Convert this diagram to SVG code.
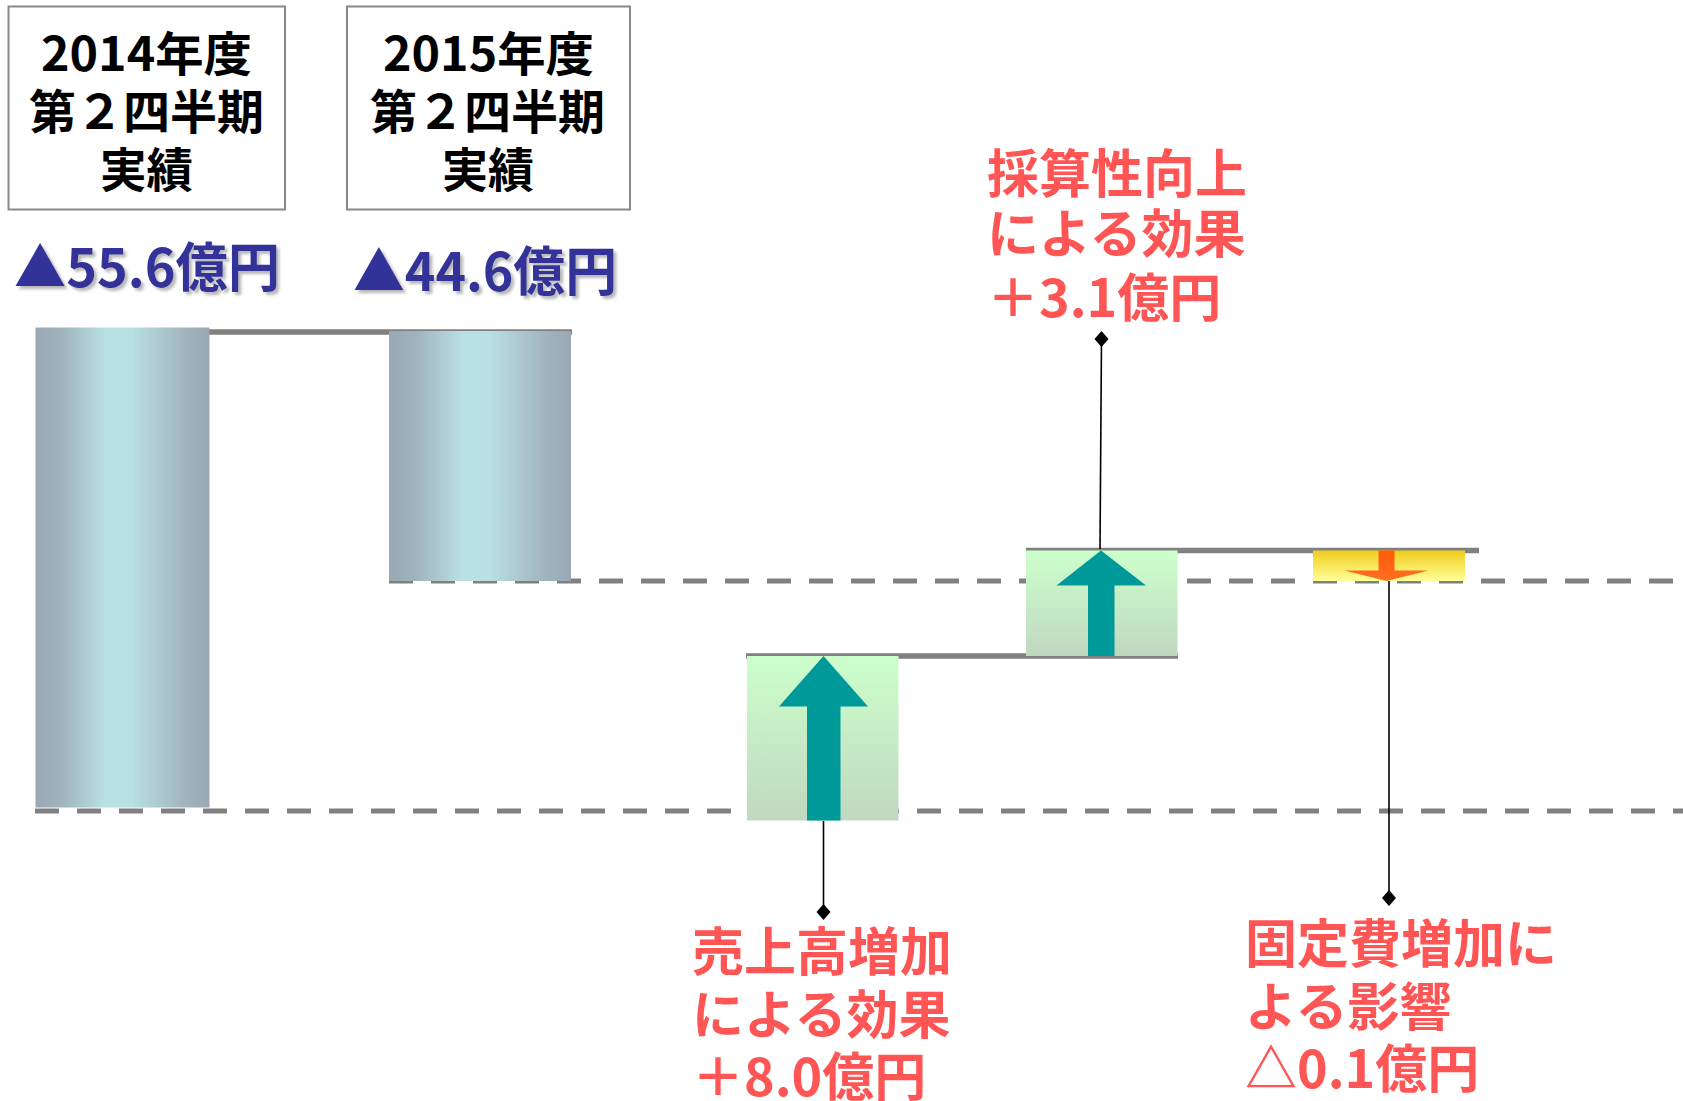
<svg xmlns="http://www.w3.org/2000/svg" width="1683" height="1101" viewBox="0 0 1683 1101">
<style>
.hdr{font-family:"Noto Sans CJK JP","Liberation Sans",sans-serif;font-weight:bold;font-size:47px;fill:#000}
.val{font-family:"Noto Sans CJK JP","Liberation Sans",sans-serif;font-weight:bold;font-size:53px;fill:#333399}
.red{font-family:"Noto Sans CJK JP","Liberation Sans",sans-serif;font-weight:bold;font-size:52px;fill:#FF5555}
.box{fill:#fff;stroke:#888;stroke-width:2}
.step{stroke:#808080;stroke-width:5.5;fill:none}
.dash{stroke:#808080;stroke-width:5;stroke-dasharray:24 18;fill:none}
.call{stroke:#000;stroke-width:1.6;fill:none;marker-end:url(#dia)}
.teal{fill:#009999}
</style>
<defs>
<linearGradient id="barG" x1="0" y1="0" x2="1" y2="0">
<stop offset="0" stop-color="#99a8b4"/>
<stop offset="0.15" stop-color="#a0b3bc"/>
<stop offset="0.4" stop-color="#b9e0e2"/>
<stop offset="0.55" stop-color="#b9e0e2"/>
<stop offset="0.85" stop-color="#a2b5be"/>
<stop offset="1" stop-color="#99a8b4"/>
</linearGradient>
<linearGradient id="grnG" x1="0" y1="0" x2="0" y2="1">
<stop offset="0" stop-color="#ccffcc"/>
<stop offset="1" stop-color="#c0d8c0"/>
</linearGradient>
<linearGradient id="ylwG" x1="0" y1="0" x2="0" y2="1">
<stop offset="0" stop-color="#f0cc1c"/>
<stop offset="1" stop-color="#ffff99"/>
</linearGradient>
<linearGradient id="orgG" x1="0" y1="0" x2="0" y2="1">
<stop offset="0" stop-color="#ff5a0a"/>
<stop offset="1" stop-color="#ff7020"/>
</linearGradient>
<filter id="sh" x="-5%" y="-20%" width="115%" height="150%">
<feDropShadow dx="3" dy="3" stdDeviation="1.5" flood-color="#888" flood-opacity="0.6"/>
</filter>
<marker id="dia" viewBox="-8 -9 16 18" markerWidth="16" markerHeight="18" refX="0" refY="0" markerUnits="userSpaceOnUse" orient="0">
<path d="M0,-8 L7,0 L0,8 L-7,0 Z" fill="#000"/>
</marker>
</defs>

<g id="header-2014">
<rect class="box" x="8.5" y="6.5" width="276.5" height="203"/>
<text class="hdr" x="41" y="71" textLength="211" lengthAdjust="spacingAndGlyphs">2014年度</text>
<text class="hdr" x="29" y="129" textLength="235" lengthAdjust="spacingAndGlyphs">第２四半期</text>
<text class="hdr" x="100" y="187" textLength="93" lengthAdjust="spacingAndGlyphs">実績</text>
</g>
<g id="header-2015">
<rect class="box" x="347" y="6.5" width="283" height="203"/>
<text class="hdr" x="383" y="71" textLength="211" lengthAdjust="spacingAndGlyphs">2015年度</text>
<text class="hdr" x="370" y="129" textLength="235" lengthAdjust="spacingAndGlyphs">第２四半期</text>
<text class="hdr" x="442" y="187" textLength="92" lengthAdjust="spacingAndGlyphs">実績</text>
</g>

<g id="value-2014" filter="url(#sh)">
<text class="val" x="14" y="287" textLength="266" lengthAdjust="spacingAndGlyphs">▲55.6億円</text>
</g>
<g id="value-2015" filter="url(#sh)">
<text class="val" x="353" y="291" textLength="264" lengthAdjust="spacingAndGlyphs">▲44.6億円</text>
</g>

<g id="connectors">
<line class="step" x1="209" y1="332" x2="572" y2="332"/>
<line class="step" x1="746" y1="656" x2="1178" y2="656"/>
<line class="step" x1="1026" y1="550.5" x2="1479" y2="550.5"/>
<line class="dash" x1="389" y1="581" x2="1683" y2="581"/>
<line class="dash" x1="35" y1="811" x2="1683" y2="811"/>
</g>

<g id="bar-2014">
<rect x="35.5" y="327.5" width="174" height="480" fill="url(#barG)"/>
</g>
<g id="bar-2015">
<rect x="389" y="331" width="182" height="250" fill="url(#barG)"/>
</g>

<g id="step-sales">
<rect x="747" y="656" width="151.5" height="164.5" fill="url(#grnG)"/>
<polygon class="teal" points="823.5,656 868,706.5 840.5,706.5 840.5,820.5 807,820.5 807,706.5 779,706.5"/>
</g>
<g id="step-margin">
<rect x="1026" y="550.5" width="151.5" height="105.5" fill="url(#grnG)"/>
<polygon class="teal" points="1101,550.5 1146,585.5 1114.5,585.5 1114.5,656 1088,656 1088,585.5 1056.5,585.5"/>
</g>
<g id="step-fixed">
<rect x="1313" y="550.5" width="152" height="30.5" fill="url(#ylwG)"/>
<polygon fill="url(#orgG)" points="1378.5,550.5 1394.5,550.5 1394.5,570.5 1428.5,570.5 1386.5,581 1344.5,570.5 1378.5,570.5"/>
</g>

<g id="callouts">
<line class="call" x1="823.5" y1="821" x2="823.5" y2="912"/>
<line class="call" x1="1100" y1="549" x2="1101.5" y2="339"/>
<line class="call" x1="1389" y1="581" x2="1389" y2="898"/>
</g>

<g id="label-margin">
<text class="red"><tspan x="987" y="193">採算性向上</tspan><tspan x="987" y="253">による効果</tspan><tspan x="987" y="317">＋3.1億円</tspan></text>
</g>
<g id="label-sales">
<text class="red"><tspan x="692" y="971">売上高増加</tspan><tspan x="692" y="1034">による効果</tspan><tspan x="692" y="1096">＋8.0億円</tspan></text>
</g>
<g id="label-fixed">
<text class="red"><tspan x="1245" y="963">固定費増加に</tspan><tspan x="1245" y="1026">よる影響</tspan><tspan x="1245" y="1088">△0.1億円</tspan></text>
</g>
</svg>
